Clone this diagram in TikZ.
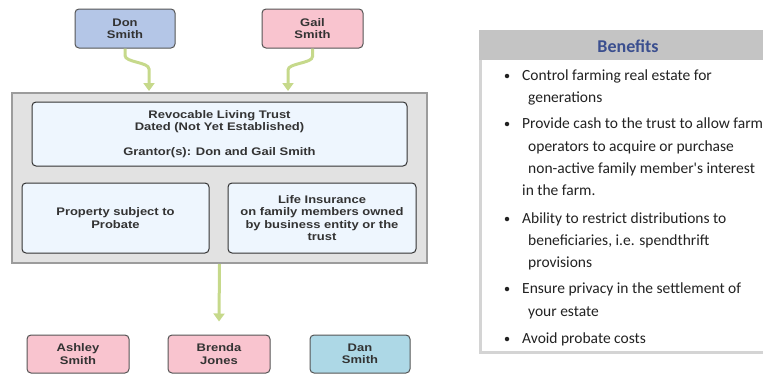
\documentclass[tikz,border=0pt]{standalone}
\usepackage{fontspec}
\usetikzlibrary{arrows.meta}
\newfontfamily\dfont[FakeStretch=1.18]{Liberation Sans}
\newfontfamily\bfont{Carlito}
\definecolor{txt}{HTML}{333333}
\definecolor{edge}{HTML}{555555}
\definecolor{donfill}{HTML}{B4C6E7}
\definecolor{pinkfill}{HTML}{F9C4CF}
\definecolor{danfill}{HTML}{ADD8E6}
\definecolor{paleblue}{HTML}{EEF6FE}
\definecolor{outerfill}{HTML}{E2E2E2}
\definecolor{outeredge}{HTML}{9C9C9C}
\definecolor{arrowgreen}{HTML}{C6D98B}
\definecolor{bframe}{HTML}{D4D4D4}
\definecolor{hdrfill}{HTML}{C4C4C4}
\definecolor{titleblue}{HTML}{3B4F8F}
\definecolor{btext}{HTML}{222222}
\begin{document}
\begin{tikzpicture}[x=1pt,y=-1pt,
  box/.style={draw=edge, line width=1pt, rounded corners=4pt, inner sep=0pt, align=center,
    font=\dfont\bfseries\fontsize{11}{12.3}\selectfont, text=txt},
  person/.style={box, minimum height=39pt},
  inner/.style={box, fill=paleblue, draw=black!80},
  outerbox/.style={draw=outeredge, fill=outerfill, line width=2pt, inner sep=0pt},
  garrow/.style={draw=arrowgreen, line width=3pt, -{Triangle[width=11pt,length=8pt]}},
  btxt/.style={anchor=base west, inner sep=0pt, text=btext, font=\bfont\fontsize{15.5}{18}\selectfont},
  bul/.style={circle, fill=btext, inner sep=0pt, minimum size=4.5pt},
]
\useasboundingbox (0,0) rectangle (763,375);
\clip (0,0) rectangle (763,375);

% people at top
\node[person, fill=donfill, minimum width=100pt] (don) at (125,28.5) {Don\\Smith};
\node[person, fill=pinkfill, minimum width=101pt] (gail) at (312.5,28.5) {Gail\\Smith};

% outer trust container
\node[outerbox, minimum width=415pt, minimum height=170pt] (outer) at (219.5,178) {};
\node[inner, minimum width=375pt, minimum height=64pt] (trust) at (219.5,134)
  {Revocable Living Trust\\Dated (Not Yet Established)\\[12pt]Grantor(s): Don and Gail Smith};
\node[inner, minimum width=187pt, minimum height=70pt] (prop) at (115.5,218)
  {Property subject to\\Probate};
\node[inner, minimum width=188pt, minimum height=70pt] (life) at (322,218)
  {Life Insurance\\on family members owned\\by business entity or the\\trust};

% beneficiaries
\node[person, fill=pinkfill, minimum width=102pt, minimum height=38pt] (ashley) at (78,354) {Ashley\\Smith};
\node[person, fill=pinkfill, minimum width=102pt, minimum height=38pt] (brenda) at (219,354) {Brenda\\Jones};
\node[person, fill=danfill, minimum width=100pt, minimum height=38pt] (dan) at (360,354) {Dan\\Smith};

% arrows
\coordinate (d1) at (149,69);
\coordinate (dtip) at (149,91);
\coordinate (g1) at (288,70);
\coordinate (gtip) at (288,91);
\draw[garrow] (don.south) -- ++(0,7) .. controls +(0,7) and +(0,-7) .. (d1) -- (dtip);
\draw[garrow] (gail.south) -- ++(0,8) .. controls +(0,7) and +(0,-7) .. (g1) -- (gtip);
\draw[garrow] (outer.south) -- ([yshift=13pt]brenda.north);

% benefits panel
\node[draw=bframe, line width=2.5pt, fill=white, anchor=north west, minimum width=300pt, minimum height=321pt, inner sep=0pt] (bbox) at (479,30) {};
\node[fill=hdrfill, anchor=north west, minimum width=300pt, minimum height=30pt, inner sep=0pt] (bhead) at (479,30) {};
\node[text=titleblue, font=\bfont\bfseries\fontsize{18}{20}\selectfont, inner sep=0pt] (btitle) at (628,46) {Benefits};

\node[bul] (u1) at (507,76) {};
\node[btxt] (l1) at (522,80) {Control farming real estate for};
\node[btxt] (l2) at (528,102) {generations};
\node[bul] (u2) at (507,124) {};
\node[btxt] (l3) at (522,128) {Provide cash to the trust to allow farm};
\node[btxt] (l4) at (528,151) {operators to acquire or purchase};
\node[btxt] (l5) at (528,173) {non-active family member's interest};
\node[btxt] (l6) at (522,195) {in the farm.};
\node[bul] (u3) at (507,219) {};
\node[btxt] (l7) at (522,223) {Ability to restrict distributions to};
\node[btxt] (l8) at (528,245) {beneficiaries, i.e. spendthrift};
\node[btxt] (l9) at (528,267) {provisions};
\node[bul] (u4) at (507,289) {};
\node[btxt] (l10) at (522,293) {Ensure privacy in the settlement of};
\node[btxt] (l11) at (528,316) {your estate};
\node[bul] (u5) at (507,339) {};
\node[btxt] (l12) at (522,343) {Avoid probate costs};
\end{tikzpicture}
\end{document}
